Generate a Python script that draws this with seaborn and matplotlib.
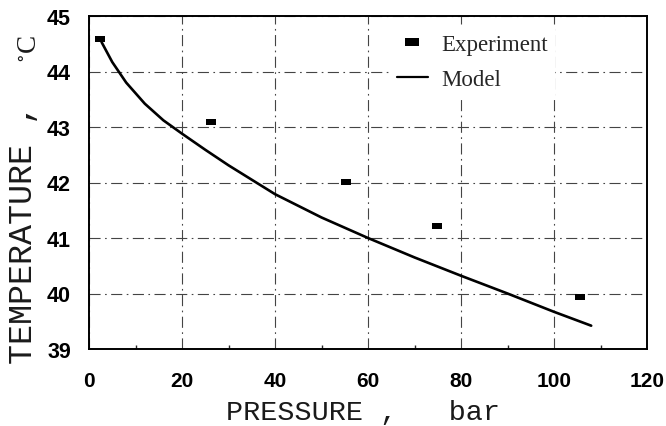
import numpy as np
import pandas as pd
import matplotlib
matplotlib.use("Agg")
import matplotlib.pyplot as plt
from matplotlib.lines import Line2D
import seaborn as sns

# ---- data ----
exp_pressure = [2.4, 26.2, 55.2, 74.9, 105.6]
exp_temp = [44.58, 43.09, 42.01, 41.21, 39.93]

model_pressure = [2.7, 5, 8, 12, 16, 20, 25, 30, 35, 40, 50, 60, 70, 80, 90, 100, 108]
model_temp = [44.53, 44.17, 43.80, 43.42, 43.12, 42.88, 42.59, 42.31, 42.05, 41.79,
              41.37, 41.00, 40.65, 40.32, 40.00, 39.67, 39.42]

x_ticks = [0, 20, 40, 60, 80, 100, 120]
y_ticks = [39, 40, 41, 42, 43, 44, 45]
legend_labels = ["Experiment", "Model"]

sns.set_theme(style="white")
plt.rcParams["font.family"] = ["Liberation Sans", "DejaVu Sans"]
plt.rcParams["mathtext.fontset"] = "stix"

W, H = 666, 427
fig = plt.figure(figsize=(W / 100, H / 100), dpi=100)
ax = fig.add_axes([89 / W, 1 - 350 / H, (647 - 89) / W, (350 - 17) / H])

rect = [(-1, -0.62), (1, -0.62), (1, 0.62), (-1, 0.62), (-1, -0.62)]

df_model = pd.DataFrame({"P": model_pressure, "T": model_temp})
df_exp = pd.DataFrame({"P": exp_pressure, "T": exp_temp})

sns.lineplot(data=df_model, x="P", y="T", ax=ax, color="black", linewidth=1.9,
             sort=True, zorder=3, legend=False)
sns.scatterplot(data=df_exp, x="P", y="T", ax=ax, marker=rect, s=62,
                color="black", edgecolor="black", linewidth=0, zorder=4, legend=False)

ax.set_xlim(0, 120)
ax.set_ylim(39, 45)
ax.set_xticks(x_ticks)
ax.set_yticks(y_ticks)
ax.set_xticks([10, 30, 50, 70, 90, 110], minor=True)
ax.set_xticklabels([str(v) for v in x_ticks], fontsize=15, fontweight="bold")
ax.set_yticklabels([str(v) for v in y_ticks], fontsize=15.5, fontweight="bold")
ax.tick_params(axis="x", which="major", direction="out", length=3, width=1,
               pad=13, colors="black")
ax.tick_params(axis="x", which="minor", direction="in", length=3, width=1,
               bottom=True)
ax.tick_params(axis="y", which="major", direction="out", length=3, width=1,
               pad=10, colors="black")

ax.set_xlabel("")
ax.set_ylabel("")
ax.set_axisbelow(True)
ax.grid(True, which="major", color="#444444", linewidth=0.8,
        linestyle=(0, (10, 4, 1.5, 4)))

for s in ax.spines.values():
    s.set_visible(True)
    s.set_color("black")
    s.set_linewidth(1.4)

# axis titles
fig.text(226 / W, 1 - 420 / H, "PRESSURE ,   bar", fontsize=20.5,
         family=["Liberation Mono", "DejaVu Sans Mono"], color="#1a1a1a",
         ha="left", va="baseline")
fig.text(31.5 / W, 1 - 364 / H, "TEMPERATURE ,", fontsize=24,
         family=["Liberation Mono", "DejaVu Sans Mono"], color="#1a1a1a",
         rotation=90, rotation_mode="anchor", ha="left", va="baseline")
fig.text(35.5 / W, 1 - 62 / H, r"$^{\circ}$C", fontsize=19.5,
         family=["Liberation Serif", "DejaVu Serif"], color="#1a1a1a",
         rotation=90, rotation_mode="anchor", ha="left", va="baseline")

handles = [
    Line2D([], [], linestyle="none", marker=rect, markersize=10,
           color="black", markeredgewidth=0),
    Line2D([], [], color="black", linewidth=1.6),
]
leg = ax.legend(handles, legend_labels, loc="upper left",
                bbox_to_anchor=(390 / W, 1 - 28 / H), bbox_transform=fig.transFigure,
                frameon=True, fancybox=False, facecolor="white", edgecolor="none",
                framealpha=1, borderpad=0.3, borderaxespad=0, handlelength=1.35,
                handletextpad=0.6, labelspacing=0.62,
                prop={"family": ["Liberation Serif", "DejaVu Serif"], "size": 16.5})
leg.set_zorder(5)

fig.savefig("out.png", dpi=100)
